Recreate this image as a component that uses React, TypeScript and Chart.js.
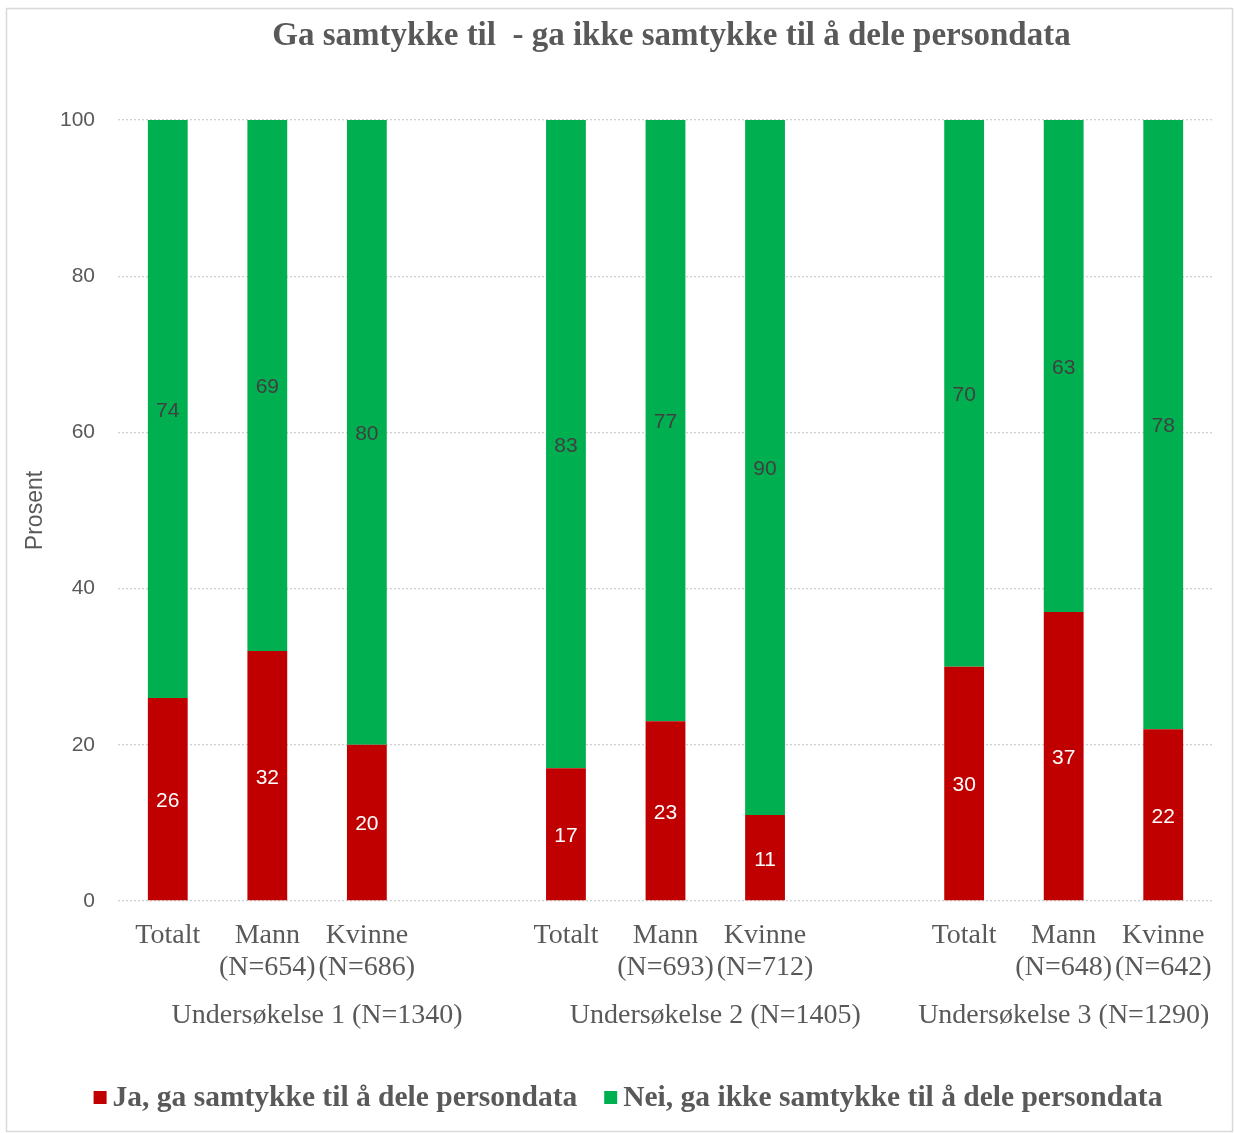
import React, { useEffect, useRef } from "react";
import { Chart, registerables } from "chart.js";

Chart.register(...registerables);

const chartTitle = "Ga samtykke til  - ga ikke samtykke til å dele persondata";
const yAxisTitle = "Prosent";
const categoryLabels: (string | string[])[] = [
  "Totalt", ["Mann", "(N=654)"], ["Kvinne", "(N=686)"], "",
  "Totalt", ["Mann", "(N=693)"], ["Kvinne", "(N=712)"], "",
  "Totalt", ["Mann", "(N=648)"], ["Kvinne", "(N=642)"],
];
const groupLabels = ["Undersøkelse 1 (N=1340)", "Undersøkelse 2 (N=1405)", "Undersøkelse 3 (N=1290)"];
const groupRanges = [[0, 3], [4, 7], [8, 10]];
const jaLabel = "Ja, ga samtykke til å dele persondata";
const neiLabel = "Nei, ga ikke samtykke til å dele persondata";
const jaValues = [26, 32, 20, null, 17, 23, 11, null, 30, 37, 22];
const neiValues = [74, 69, 80, null, 83, 77, 90, null, 70, 63, 78];
const yTicks = [0, 20, 40, 60, 80, 100];

const RED = "#C00000";
const GREEN = "#00B050";
const TEXT = "#595959";
const SERIF = "'Liberation Serif', 'Times New Roman', serif";
const SANS = "'Liberation Sans', Arial, sans-serif";

const W = 1235;
const H = 1133;

const decorPlugin = {
  id: "decor",
  beforeDraw(chart: any) {
    const ctx = chart.ctx;
    ctx.save();
    ctx.fillStyle = "#ffffff";
    ctx.fillRect(0, 0, W, H);
    ctx.strokeStyle = "#d9d9d9";
    ctx.lineWidth = 1.5;
    ctx.strokeRect(6.5, 8.5, W - 9, H - 10);
    ctx.restore();
  },
  afterDraw(chart: any) {
    const ctx = chart.ctx;
    const area = chart.chartArea;
    const xs = chart.scales.x;
    ctx.save();
    // title
    ctx.fillStyle = TEXT;
    ctx.font = `bold 33px ${SERIF}`;
    ctx.textAlign = "center";
    ctx.textBaseline = "middle";
    ctx.fillText(chartTitle, (area.left + area.right) / 2 + 6, 36);
    // y title
    ctx.save();
    ctx.translate(36, (area.top + area.bottom) / 2);
    ctx.rotate(-Math.PI / 2);
    ctx.font = `23px ${SANS}`;
    ctx.fillText(yAxisTitle, 0, 0);
    ctx.restore();
    // group labels
    ctx.font = `28px ${SERIF}`;
    groupLabels.forEach((g, i) => {
      const [a, b] = groupRanges[i];
      const cx = (xs.getPixelForValue(a) + xs.getPixelForValue(b)) / 2;
      ctx.fillText(g, cx, 1016);
    });
    // legend
    ctx.font = `bold 29.5px ${SERIF}`;
    ctx.textAlign = "left";
    const items = [
      { label: jaLabel, color: RED },
      { label: neiLabel, color: GREEN },
    ];
    const box = 13;
    const gapBox = 6;
    const gapItems = 27;
    const widths = items.map((it) => ctx.measureText(it.label).width);
    const total = widths.reduce((s, w) => s + box + gapBox + w, 0) + gapItems;
    let x = 628 - total / 2;
    const ly = 1098;
    items.forEach((it, i) => {
      ctx.fillStyle = it.color;
      ctx.fillRect(x, ly - 7, box, box);
      x += box + gapBox;
      ctx.fillStyle = TEXT;
      ctx.fillText(it.label, x, ly);
      x += widths[i] + gapItems;
    });
    // data labels
    ctx.textAlign = "center";
    ctx.font = `21px ${SANS}`;
    chart.data.datasets.forEach((ds: any, di: number) => {
      const meta = chart.getDatasetMeta(di);
      meta.data.forEach((el: any, i: number) => {
        const v = ds.data[i];
        if (v === null || v === undefined) return;
        const top = Math.max(Math.min(el.y, el.base), area.top);
        const bottom = Math.min(Math.max(el.y, el.base), area.bottom);
        const cy = (top + bottom) / 2;
        ctx.fillStyle = di === 0 ? "#ffffff" : "#404040";
        ctx.fillText(String(v), el.x, cy + 2);
      });
    });
    ctx.restore();
  },
};

export default function App() {
  const ref = useRef<HTMLCanvasElement | null>(null);
  useEffect(() => {
    document.body.style.margin = "0";
    const canvas = ref.current!;
    const chart = new Chart(canvas, {
      type: "bar",
      data: {
        labels: categoryLabels,
        datasets: [
          { label: jaLabel, data: jaValues, backgroundColor: RED, barPercentage: 0.4, categoryPercentage: 1 },
          { label: neiLabel, data: neiValues, backgroundColor: GREEN, barPercentage: 0.4, categoryPercentage: 1 },
        ],
      },
      options: {
        responsive: false,
        animation: false,
        devicePixelRatio: 1,
        layout: { padding: { left: 0, top: 120, right: 22, bottom: 0 } },
        plugins: { legend: { display: false }, title: { display: false }, tooltip: { enabled: false } },
        scales: {
          x: {
            stacked: true,
            offset: true,
            grid: { display: false, drawTicks: false },
            border: { display: false },
            ticks: {
              color: TEXT,
              font: { family: SERIF, size: 28, lineHeight: 1.14 },
              padding: 19,
              maxRotation: 0,
              autoSkip: false,
            },
            afterFit(scale: any) {
              scale.height = H - 901;
            },
          },
          y: {
            stacked: true,
            min: 0,
            max: 100,
            afterBuildTicks(scale: any) {
              scale.ticks = yTicks.map((v) => ({ value: v }));
            },
            grid: {
              color: "#d0d0d0",
              lineWidth: 1.3,
              drawTicks: false,
            },
            border: { display: false, dash: [2, 2] },
            ticks: {
              color: TEXT,
              font: { family: SANS, size: 21 },
              padding: 23,
            },
            afterFit(scale: any) {
              scale.width = 118;
            },
          },
        },
      },
      plugins: [decorPlugin],
    } as any);
    return () => chart.destroy();
  }, []);
  return (
    <div style={{ width: W, height: H }}>
      <canvas ref={ref} width={W} height={H} style={{ display: "block" }} />
    </div>
  );
}
